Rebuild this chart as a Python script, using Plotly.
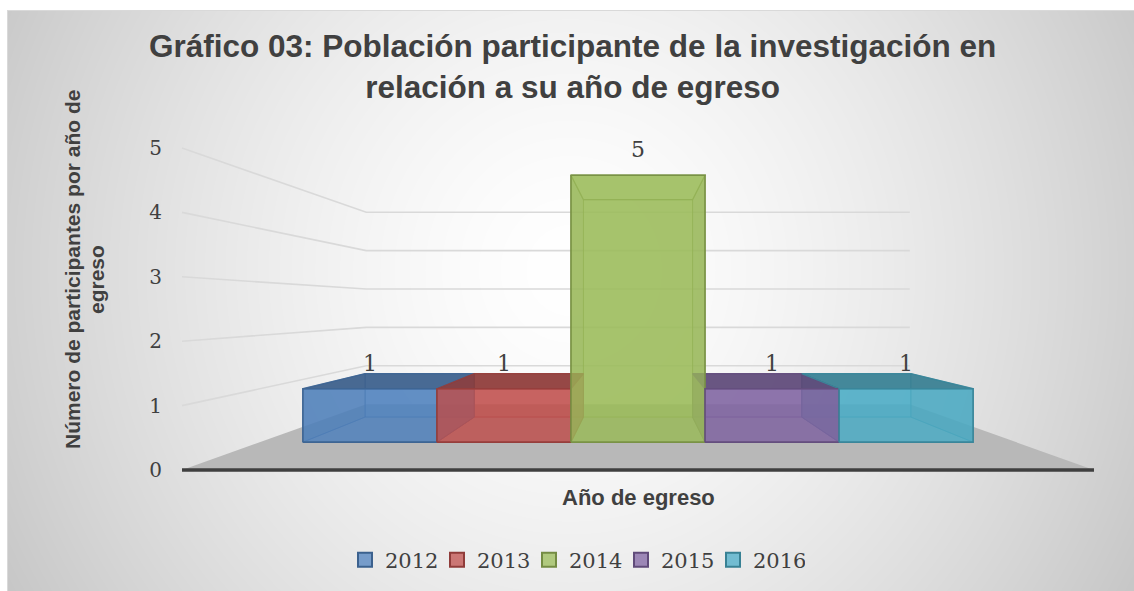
import base64
import struct
import zlib

import numpy as np
import plotly.graph_objects as go

# ---------------- data ----------------
categories = ["2012", "2013", "2014", "2015", "2016"]
values = [1, 1, 5, 1, 1]
y_ticks = [0, 1, 2, 3, 4, 5]

title_lines = ["Gráfico 03: Población participante de la investigación en",
               "relación a su año de egreso"]
y_title_lines = ["Número de participantes por año de", "egreso"]
x_title = "Año de egreso"

# ---------------- style ----------------
colors = ["#4F81BD", "#C0504D", "#9BBB59", "#8064A2", "#4BACC6"]
TEXT = "#404040"
SERIF = "DejaVu Serif"
SANS = "Liberation Sans"

W_PX, H_PX = 1134, 591
X_UNIT_PX = 161.7      # pixels per category at the front plane
Y_UNIT_PX = 64.4       # pixels per value at the front plane
CENTER_PX = 638        # x pixel of the vanishing centre
ZERO_PX = 470          # y pixel of value 0 at the front plane
HORIZON = 2.53         # eye height in value units
S_FRONT, S_BACK, S_WALL = 0.829, 0.675, 0.596  # perspective scales
HALF_W = 2.82          # floor half width in category units

n = len(categories)
CX = (n - 1) / 2.0


def proj(x, y, s):
    return CX + (x - CX) * s, HORIZON + (y - HORIZON) * s


def poly(pts):
    xs, ys = [], []
    for p in pts + [pts[0]]:
        px, py = proj(*p)
        xs.append(px)
        ys.append(py)
    return xs, ys


def rgb(hexc):
    hexc = hexc.lstrip("#")
    return [int(hexc[i:i + 2], 16) for i in (0, 2, 4)]


def rgba(hexc, a=1.0, k=1.0, white=0.0):
    r, g, b = rgb(hexc)
    c = [min(255, int(round((v * k) * (1 - white) + 255 * white))) for v in (r, g, b)]
    return f"rgba({c[0]},{c[1]},{c[2]},{a})"


# ---------------- background gradient ----------------
yy, xx = np.mgrid[0:H_PX, 0:W_PX]
t = np.sqrt(((xx - 570) / 580.0) ** 2 + ((yy - 270) / 600.0) ** 2)
t = np.clip(t, 0, 1.3)
bg = 255 - 48 * t ** 1.5
bg[:, :7] = 255
bg[:10, :] = 255
bg[10:, 7] = 217
bg[10, 7:] = 217
bg = bg.astype(np.uint8)


def png_gray(arr):
    h, w = arr.shape
    raw = b"".join(b"\x00" + arr[r].tobytes() for r in range(h))

    def chunk(tag, data):
        return (struct.pack(">I", len(data)) + tag + data
                + struct.pack(">I", zlib.crc32(tag + data) & 0xFFFFFFFF))

    ihdr = struct.pack(">IIBBBBB", w, h, 8, 0, 0, 0, 0)
    return (b"\x89PNG\r\n\x1a\n" + chunk(b"IHDR", ihdr)
            + chunk(b"IDAT", zlib.compress(raw, 9)) + chunk(b"IEND", b""))


bg_uri = "data:image/png;base64," + base64.b64encode(png_gray(bg)).decode()

fig = go.Figure()

# ---------------- floor ----------------
fx, fy = poly([(CX - HALF_W, 0, 1), (CX + HALF_W, 0, 1),
               (CX + HALF_W, 0, S_WALL), (CX - HALF_W, 0, S_WALL)])
fig.add_trace(go.Scatter(x=fx, y=fy, mode="lines", fill="toself",
                         fillcolor="#b8b8b8", line=dict(width=0),
                         hoverinfo="skip", showlegend=False))

# ---------------- wall gridlines ----------------
gx, gy = [], []
for v in y_ticks[1:]:
    for p in [(CX - HALF_W, v, 1), (CX - HALF_W, v, S_WALL), (CX + HALF_W, v, S_WALL)]:
        a, b = proj(*p)
        gx.append(a)
        gy.append(b)
    gx.append(None)
    gy.append(None)
fig.add_trace(go.Scatter(x=gx, y=gy, mode="lines",
                         line=dict(color="#d9d9d9", width=1.6),
                         hoverinfo="skip", showlegend=False))

# front edge of floor (axis line)
lx, ly = zip(proj(CX - HALF_W, 0, 1), proj(CX + HALF_W, 0, 1))
fig.add_trace(go.Scatter(x=list(lx), y=list(ly), mode="lines",
                         line=dict(color="#3f3f3f", width=3.5),
                         hoverinfo="skip", showlegend=False))


# ---------------- 3D bars ----------------
def faces(i, v):
    x0, x1 = i - 0.5, i + 0.5
    return {
        "back": [(x0, 0, S_BACK), (x1, 0, S_BACK), (x1, v, S_BACK), (x0, v, S_BACK)],
        "bottom": [(x0, 0, S_FRONT), (x1, 0, S_FRONT), (x1, 0, S_BACK), (x0, 0, S_BACK)],
        "left": [(x0, 0, S_FRONT), (x0, 0, S_BACK), (x0, v, S_BACK), (x0, v, S_FRONT)],
        "right": [(x1, 0, S_FRONT), (x1, 0, S_BACK), (x1, v, S_BACK), (x1, v, S_FRONT)],
        "top": [(x0, v, S_FRONT), (x1, v, S_FRONT), (x1, v, S_BACK), (x0, v, S_BACK)],
        "front": [(x0, 0, S_FRONT), (x1, 0, S_FRONT), (x1, v, S_FRONT), (x0, v, S_FRONT)],
    }


order = ["back", "bottom", "left", "right", "top", "front"]
for face in order:
    for i, (cat, v) in enumerate(zip(categories, values)):
        c = colors[i]
        pts = faces(i, v)[face]
        xs, ys = poly(pts)
        if face == "front":
            fill = rgba(c, 0.75)
            line = dict(color=rgba(c, 1.0, 0.78), width=1.6)
        elif face == "top":
            if v < HORIZON:
                fill = rgba(c, 0.85, 0.72)
            else:
                fill = rgba(c, 0.85, 1.0, 0.35)
            line = dict(color=rgba(c, 0.9, 0.78), width=1.3)
        elif face == "back":
            fill = rgba(c, 0.55)
            line = dict(color=rgba(c, 0.55, 0.85), width=1.0)
        elif face == "bottom":
            fill = rgba(c, 0.35, 0.9)
            line = dict(color=rgba(c, 0.5, 0.85), width=1.0)
        else:
            fill = rgba(c, 0.5, 0.85)
            line = dict(color=rgba(c, 0.6, 0.8), width=1.0)
        fig.add_trace(go.Scatter(x=xs, y=ys, mode="lines", fill="toself",
                                 fillcolor=fill, line=line, legendgroup=cat,
                                 hoverinfo="skip", showlegend=False))

# legend entries
for i, cat in enumerate(categories):
    fig.add_trace(go.Scatter(x=[None], y=[None], mode="markers", name=cat,
                             legendgroup=cat,
                             marker=dict(symbol="square", size=14,
                                         color=rgba(colors[i], 0.85, 1.0, 0.1),
                                         line=dict(color=rgba(colors[i], 1, 0.75), width=2))))

# data labels
annotations = []
for i, v in enumerate(values):
    ax_, ay_ = proj(i, v, S_FRONT)
    annotations.append(dict(x=ax_, y=ay_, xref="x", yref="y", text=str(v),
                            showarrow=False, yanchor="bottom", yshift=11,
                            font=dict(family=SERIF, size=22, color=TEXT)))

# titles
annotations.append(dict(x=572 / W_PX, y=1 - 66 / H_PX, xref="paper", yref="paper",
                        text="<b>%s</b><br><b>%s</b>" % tuple(title_lines),
                        showarrow=False, xanchor="center", yanchor="middle",
                        align="center",
                        font=dict(family=SANS, size=31.5, color=TEXT)))
annotations.append(dict(x=72 / W_PX, y=1 - 270 / H_PX, xref="paper", yref="paper",
                        text="<b>%s</b>" % y_title_lines[0], showarrow=False,
                        textangle=-90, xanchor="center", yanchor="middle",
                        font=dict(family=SANS, size=21, color=TEXT)))
annotations.append(dict(x=97 / W_PX, y=1 - 280 / H_PX, xref="paper", yref="paper",
                        text="<b>%s</b>" % y_title_lines[1], showarrow=False,
                        textangle=-90, xanchor="center", yanchor="middle",
                        font=dict(family=SANS, size=21, color=TEXT)))
annotations.append(dict(x=CENTER_PX / W_PX, y=1 - 497 / H_PX, xref="paper", yref="paper",
                        text="<b>%s</b>" % x_title, showarrow=False,
                        xanchor="center", yanchor="middle",
                        font=dict(family=SANS, size=22, color=TEXT)))

x_range = [CX - CENTER_PX / X_UNIT_PX, CX + (W_PX - CENTER_PX) / X_UNIT_PX]
y_range = [-(H_PX - ZERO_PX) / Y_UNIT_PX, ZERO_PX / Y_UNIT_PX]
floor_left_px = CENTER_PX - HALF_W * X_UNIT_PX

fig.update_layout(
    width=W_PX, height=H_PX,
    margin=dict(l=0, r=0, t=0, b=0),
    paper_bgcolor="white",
    plot_bgcolor="rgba(0,0,0,0)",
    xaxis=dict(range=x_range, visible=False, domain=[0, 1], fixedrange=True),
    yaxis=dict(range=y_range, anchor="free", position=floor_left_px / W_PX,
               tickvals=y_ticks, ticktext=[str(v) for v in y_ticks],
               showgrid=False, zeroline=False, showline=False, ticks="",
               ticklabelstandoff=20,
               tickfont=dict(family=SERIF, size=20, color=TEXT), fixedrange=True),
    showlegend=True,
    legend=dict(orientation="h", x=575 / W_PX, xanchor="center",
                y=1 - 560 / H_PX, yanchor="middle",
                bgcolor="rgba(0,0,0,0)", itemwidth=30, entrywidth=47,
                font=dict(family=SERIF, size=21, color=TEXT)),
    annotations=annotations,
    images=[dict(source=bg_uri, xref="paper", yref="paper", x=0, y=1,
                 sizex=1, sizey=1, xanchor="left", yanchor="top",
                 sizing="stretch", layer="below")],
)

fig.write_html("out.html",
               config={"displayModeBar": False},
               post_script="document.body.style.margin='0px';"
                           "document.body.style.overflow='hidden';")
